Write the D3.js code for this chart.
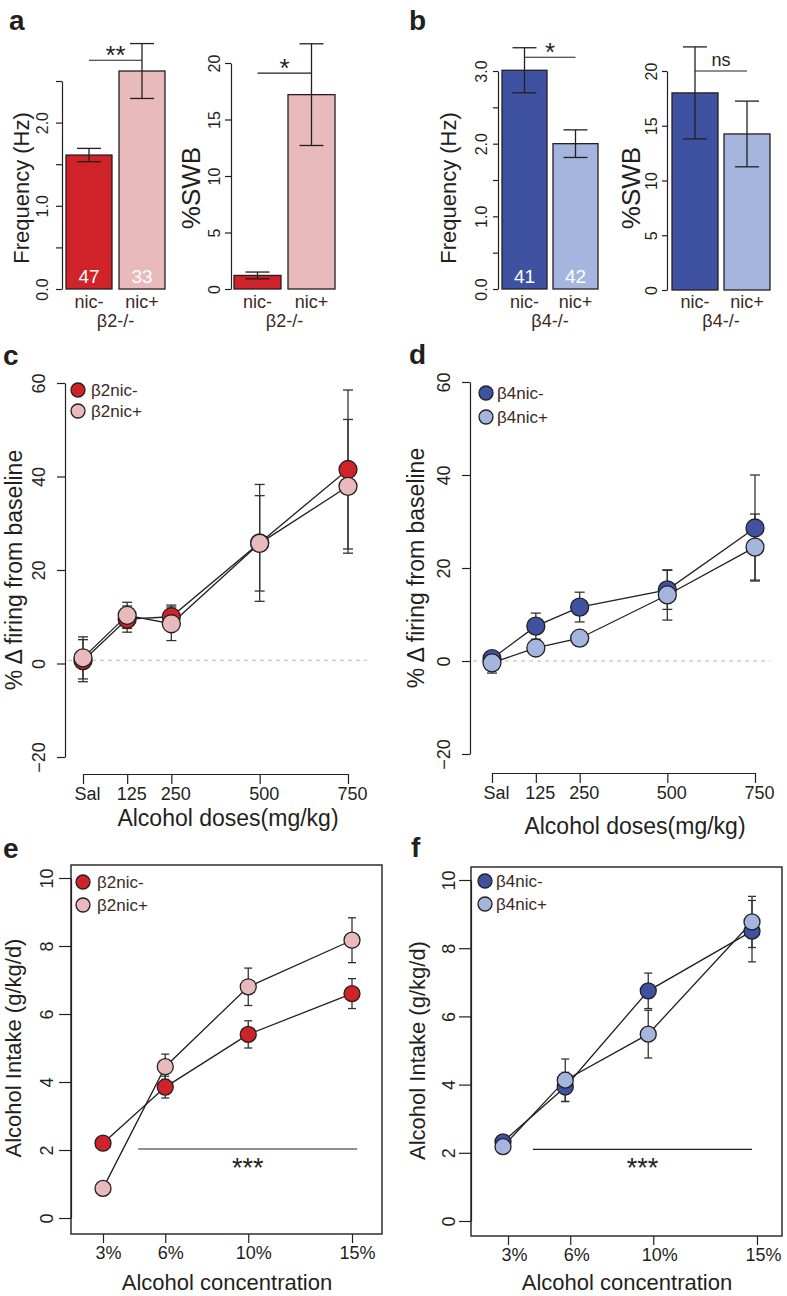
<!DOCTYPE html>
<html lang="en">
<head>
<meta charset="UTF-8">
<title>Nicotine exposure, VTA firing and alcohol intake</title>
<script src="https://d3js.org/d3.v7.min.js"></script>
<style>
    body { margin: 0; background: #fff; }
    svg { display: block; font-family: "Liberation Sans", Arial, Helvetica, sans-serif; }
    .axis path, .axis line { stroke: #231f20; stroke-width: 1.2; fill: none; }
    .axis text { fill: #231f20; }
    .letter { font-weight: bold; font-size: 28px; fill: #231f20; }
</style>
</head>
<body>
<svg width="787" height="1296"></svg>
<script>
// ---------- data ----------
// panels a, b (bars)
const groups = ["nic-", "nic+"];
const freqB2 = [1.61, 2.62];
const freqB2Sem = [0.08, 0.33];
const swbB2 = [1.2, 17.2];
const swbB2Sem = [0.3, 4.5];
const cellsB2 = ["47", "33"];
const freqB4 = [3.01, 2.0];
const freqB4Sem = [0.31, 0.19];
const swbB4 = [18.0, 14.25];
const swbB4Sem = [4.2, 3.0];
const cellsB4 = ["41", "42"];
const sigLabels = ["**", "*", "*", "ns"];
const sigLevels = [2.75, 19.1, 3.19, 20.0];

// panels c, d (firing vs dose)
const doses = [0, 125, 250, 500, 750];
const doseLabels = ["Sal", "125", "250", "500", "750"];
const firingTicks = [-20, 0, 20, 40, 60];
const b2NicMinusFiring = [0.6, 9.5, 10.0, 25.8, 41.5];
const b2NicMinusFiringSem = [4.5, 2.8, 2.5, 12.5, 17.0];
const b2NicPlusFiring = [1.2, 10.3, 8.5, 25.7, 37.9];
const b2NicPlusFiringSem = [4.5, 2.8, 3.6, 10.2, 14.3];
const b4NicMinusFiring = [0.5, 7.5, 11.6, 15.3, 28.6];
const b4NicMinusFiringSem = [1.2, 2.8, 3.2, 4.2, 11.4];
const b4NicPlusFiring = [-0.4, 2.8, 4.9, 14.2, 24.5];
const b4NicPlusFiringSem = [2.2, 1.2, 1.0, 5.4, 7.1];

// panels e, f (intake vs concentration)
const concentrations = [3, 6, 10, 15];
const concentrationLabels = ["3%", "6%", "10%", "15%"];
const intakeTicks = [0, 2, 4, 6, 8, 10];
const b2NicMinusIntake = [2.2, 3.85, 5.4, 6.6];
const b2NicMinusIntakeSem = [0.15, 0.32, 0.4, 0.44];
const b2NicPlusIntake = [0.87, 4.45, 6.8, 8.17];
const b2NicPlusIntakeSem = [0.1, 0.37, 0.55, 0.66];
const b4NicMinusIntake = [2.32, 3.93, 6.75, 8.5];
const b4NicMinusIntakeSem = [0.15, 0.43, 0.52, 0.9];
const b4NicPlusIntake = [2.18, 4.13, 5.48, 8.77];
const b4NicPlusIntakeSem = [0.1, 0.62, 0.7, 0.75];

// ---------- drawing ----------
const svg = d3.select("svg");
const ink = "#231f20";
const brown = "#3c2a1e";
const red = "#cf2229", pink = "#e9babc", navy = "#3f51a1", sky = "#a4b6de";

function rotTitle(text, xb, yc, fs) {
    svg.append("text")
        .attr("transform", `translate(${xb},${yc}) rotate(-90)`)
        .attr("text-anchor", "middle")
        .attr("fill", ink)
        .style("font-size", fs + "px")
        .text(text);
}

function leftAxis(y, x0, vals, fmt, tickLen, gap, fs) {
    const ax = svg.append("g")
        .attr("class", "axis")
        .attr("transform", `translate(${x0},0)`)
        .call(d3.axisLeft(y).tickValues(vals).tickFormat(fmt).tickSize(tickLen).tickSizeOuter(0));
    ax.attr("font-family", null).attr("font-size", null);
    ax.selectAll(".tick text")
        .attr("transform", "rotate(-90)")
        .attr("x", 0).attr("y", -gap).attr("dy", 0)
        .style("text-anchor", "middle")
        .style("font-size", fs + "px");
    return ax;
}

function barPanel(o) {
    const y = d3.scaleLinear().domain(o.yDomain).range([o.y0, o.yTop]);
    const x = d3.scaleBand().domain(groups)
        .range([o.left, o.left + 2 * o.bw + o.gap])
        .paddingInner(o.gap / (o.bw + o.gap)).paddingOuter(0);
    const cx = d => x(d) + x.bandwidth() / 2;

    leftAxis(y, o.axisX, o.ticks, o.fmt, o.tickLen, o.labelGap, 16);
    rotTitle(o.title, o.titleX, 188, o.titleSize);

    const g = svg.append("g");
    g.selectAll("rect").data(o.values).join("rect")
        .attr("x", (d, i) => x(groups[i]))
        .attr("y", d => y(d))
        .attr("width", x.bandwidth())
        .attr("height", d => y(0) - y(d))
        .attr("fill", (d, i) => o.colors[i])
        .attr("stroke", ink).attr("stroke-width", 1.3);

    // error bars
    o.values.forEach((v, i) => {
        const c = cx(groups[i]), lo = y(v - o.sem[i]), hi = y(v + o.sem[i]);
        g.append("line").attr("x1", c).attr("x2", c).attr("y1", lo).attr("y2", hi)
            .attr("stroke", ink).attr("stroke-width", 1.3);
        [lo, hi].forEach(yy => g.append("line").attr("x1", c - 12).attr("x2", c + 12)
            .attr("y1", yy).attr("y2", yy).attr("stroke", ink).attr("stroke-width", 1.3));
    });

    // cell counts
    if (o.cells) {
        g.selectAll(".cells").data(o.cells).join("text")
            .attr("x", (d, i) => cx(groups[i])).attr("y", o.y0 - 6)
            .attr("text-anchor", "middle").attr("fill", "#fff")
            .style("font-size", "19px").text(d => d);
    }

    // group labels
    g.selectAll(".grp").data(groups).join("text")
        .attr("x", d => cx(d)).attr("y", 308)
        .attr("text-anchor", "middle").attr("fill", brown)
        .style("font-size", "18px").text(d => d);
    g.append("text")
        .attr("x", (cx(groups[0]) + cx(groups[1])) / 2).attr("y", 327)
        .attr("text-anchor", "middle").attr("fill", brown)
        .style("font-size", "18px").text(o.genotype);

    // significance
    const sy = y(o.sigLevel);
    const ns = o.sigLabel === "ns";
    g.append("line").attr("x1", cx(groups[0])).attr("x2", cx(groups[1]))
        .attr("y1", sy).attr("y2", sy).attr("stroke", ink).attr("stroke-width", 1.1);
    g.append("text")
        .attr("x", (cx(groups[0]) + cx(groups[1])) / 2)
        .attr("y", ns ? sy - 5 : sy + 4)
        .attr("text-anchor", "middle").attr("fill", ink)
        .style("font-size", ns ? "18px" : "26px").text(o.sigLabel);
}

function linePanel(o) {
    const y = d3.scaleLinear().domain(o.yDomain).range(o.yRange);
    const x = d3.scaleLinear().domain(o.xDomain).range(o.xRange);
    const xp = d3.scaleLinear().domain(o.xDomain).range(o.xRange.map(v => v + o.pointShift));

    if (o.box) {
        svg.append("rect").attr("x", o.box[0]).attr("y", o.box[1])
            .attr("width", o.box[2] - o.box[0]).attr("height", o.box[3] - o.box[1])
            .attr("fill", "none").attr("stroke", ink).attr("stroke-width", 1.4);
    }

    leftAxis(y, o.axisX, o.yTicks, d3.format("d"), o.yTickLen, o.yLabelGap, 18);

    const xa = svg.append("g").attr("class", "axis")
        .attr("transform", `translate(0,${o.xAxisY})`)
        .call(d3.axisBottom(x).tickValues(o.xValues)
            .tickFormat((d, i) => o.xLabels[i]).tickSize(o.xTickLen).tickSizeOuter(0));
    xa.attr("font-family", null).attr("font-size", null);
    xa.selectAll(".tick text").attr("y", o.xTickLen + 3).attr("dx", o.labelShift)
        .style("font-size", "18px");
    if (o.box) xa.select(".domain").remove();

    rotTitle(o.yTitle, o.yTitleX, (o.yRange[0] + o.yRange[1]) / 2, o.titleSize);
    svg.append("text").attr("x", o.xTitlePos[0]).attr("y", o.xTitlePos[1])
        .attr("text-anchor", "middle").attr("fill", ink)
        .style("font-size", o.titleSize + "px").text(o.xTitle);

    if (o.refLevel !== undefined) {
        svg.append("line").attr("x1", o.axisX + 3).attr("x2", o.refEnd)
            .attr("y1", y(o.refLevel)).attr("y2", y(o.refLevel))
            .attr("stroke", "#b8b8b8").attr("stroke-width", 1.1).attr("stroke-dasharray", "4,4");
    }

    if (o.sig) {
        const sy = y(o.sig.level);
        svg.append("line").attr("x1", x(o.sig.span[0])).attr("x2", x(o.sig.span[1]))
            .attr("y1", sy).attr("y2", sy).attr("stroke", ink).attr("stroke-width", 1.1);
        svg.append("text").attr("x", (x(o.sig.span[0]) + x(o.sig.span[1])) / 2).attr("y", sy + 28)
            .attr("text-anchor", "middle").attr("fill", ink).style("font-size", "27px").text("***");
    }

    const g = svg.append("g");
    o.series.forEach(s => {
        s.values.forEach((v, i) => {
            const c = xp(o.xValues[i]), lo = y(v - s.sem[i]), hi = y(v + s.sem[i]);
            g.append("line").attr("x1", c).attr("x2", c).attr("y1", lo).attr("y2", hi)
                .attr("stroke", "#333").attr("stroke-width", 1.3);
            [lo, hi].forEach(yy => g.append("line").attr("x1", c - o.cap).attr("x2", c + o.cap)
                .attr("y1", yy).attr("y2", yy).attr("stroke", "#333").attr("stroke-width", 1.3));
        });
    });
    const line = d3.line().x((d, i) => xp(o.xValues[i])).y(d => y(d));
    o.series.forEach(s => {
        g.append("path").datum(s.values).attr("d", line)
            .attr("fill", "none").attr("stroke", ink).attr("stroke-width", 1.3);
    });
    o.series.forEach(s => {
        g.selectAll(null).data(s.values).join("circle")
            .attr("cx", (d, i) => xp(o.xValues[i])).attr("cy", d => y(d))
            .attr("r", o.r).attr("fill", s.color)
            .attr("stroke", ink).attr("stroke-width", 1.3);
    });

    // legend
    o.series.forEach((s, i) => {
        const ly = o.legend[1] + i * o.legend[3];
        svg.append("circle").attr("cx", o.legend[0]).attr("cy", ly).attr("r", 7)
            .attr("fill", s.color).attr("stroke", ink).attr("stroke-width", 1.3);
        svg.append("text").attr("x", o.legend[2]).attr("y", ly + 6)
            .attr("fill", brown).style("font-size", "17px").text(s.name);
    });
}

// panel letters
[["a", 9, 30], ["b", 409, 30], ["c", 3, 365], ["d", 409, 364], ["e", 3, 858], ["f", 411, 857]]
    .forEach(([t, x, y]) => svg.append("text").attr("class", "letter").attr("x", x).attr("y", y).text(t));

const halfTicks3 = d3.range(0, 3.01, 0.5);
const halfFmt = d => (Math.abs(d - Math.round(d)) < 1e-9 ? d3.format(".1f")(d) : "");

barPanel({ values: freqB2, sem: freqB2Sem, cells: cellsB2, colors: [red, pink], genotype: "β2-/-",
    yDomain: [0, 2.5], y0: 289, yTop: 81, left: 66, bw: 46, gap: 7, axisX: 62,
    ticks: d3.range(0, 2.51, 0.5), fmt: halfFmt, tickLen: 6, labelGap: 14,
    title: "Frequency (Hz)", titleX: 29, titleSize: 22, sigLevel: sigLevels[0], sigLabel: sigLabels[0] });

barPanel({ values: swbB2, sem: swbB2Sem, colors: [red, pink], genotype: "β2-/-",
    yDomain: [0, 20], y0: 289, yTop: 63, left: 234, bw: 47, gap: 7, axisX: 231,
    ticks: [0, 5, 10, 15, 20], fmt: d3.format("d"), tickLen: 6, labelGap: 11,
    title: "%SWB", titleX: 200, titleSize: 26, sigLevel: sigLevels[1], sigLabel: sigLabels[1] });

barPanel({ values: freqB4, sem: freqB4Sem, cells: cellsB4, colors: [navy, sky], genotype: "β4-/-",
    yDomain: [0, 3], y0: 289, yTop: 71, left: 502, bw: 45, gap: 6, axisX: 498,
    ticks: halfTicks3, fmt: halfFmt, tickLen: 5, labelGap: 11,
    title: "Frequency (Hz)", titleX: 456, titleSize: 22, sigLevel: sigLevels[2], sigLabel: sigLabels[2] });

barPanel({ values: swbB4, sem: swbB4Sem, colors: [navy, sky], genotype: "β4-/-",
    yDomain: [0, 20], y0: 290, yTop: 71, left: 672, bw: 46, gap: 6, axisX: 667,
    ticks: [0, 5, 10, 15, 20], fmt: d3.format("d"), tickLen: 5, labelGap: 10,
    title: "%SWB", titleX: 640, titleSize: 26, sigLevel: sigLevels[3], sigLabel: sigLabels[3] });

linePanel({ yDomain: [-20, 60], yRange: [757, 383], xDomain: [0, 750], xRange: [83, 348], pointShift: 0,
    axisX: 65, yTicks: firingTicks, yTickLen: 8, yLabelGap: 20,
    xAxisY: 774, xValues: doses, xLabels: doseLabels, xTickLen: 10, labelShift: 4,
    yTitle: "% Δ firing from baseline", yTitleX: 22, xTitle: "Alcohol doses(mg/kg)", xTitlePos: [228, 826],
    titleSize: 23, refLevel: 0.7, refEnd: 367, r: 9, cap: 5,
    series: [{ name: "β2nic-", values: b2NicMinusFiring, sem: b2NicMinusFiringSem, color: red },
             { name: "β2nic+", values: b2NicPlusFiring, sem: b2NicPlusFiringSem, color: pink }],
    legend: [78, 390, 91, 21] });

linePanel({ yDomain: [-20, 60], yRange: [754, 382], xDomain: [0, 750], xRange: [492, 755], pointShift: 0,
    axisX: 470, yTicks: firingTicks, yTickLen: 8, yLabelGap: 20,
    xAxisY: 773, xValues: doses, xLabels: doseLabels, xTickLen: 10, labelShift: 4,
    yTitle: "% Δ firing from baseline", yTitleX: 424, xTitle: "Alcohol doses(mg/kg)", xTitlePos: [635, 834],
    titleSize: 23, refLevel: 0, refEnd: 770, r: 9, cap: 5,
    series: [{ name: "β4nic-", values: b4NicMinusFiring, sem: b4NicMinusFiringSem, color: navy },
             { name: "β4nic+", values: b4NicPlusFiring, sem: b4NicPlusFiringSem, color: sky }],
    legend: [486, 393, 497, 24] });

linePanel({ yDomain: [0, 10], yRange: [1218, 878], xDomain: [3, 15], xRange: [103, 352], pointShift: 0,
    box: [71, 865, 382, 1234], axisX: 71, yTicks: intakeTicks, yTickLen: 12, yLabelGap: 18,
    xAxisY: 1234, xValues: concentrations, xLabels: concentrationLabels, xTickLen: 9, labelShift: 5,
    yTitle: "Alcohol Intake (g/kg/d)", yTitleX: 21, xTitle: "Alcohol concentration", xTitlePos: [227, 1290],
    titleSize: 22, sig: { level: 2.03, span: [4.7, 15.25] }, r: 8, cap: 4,
    series: [{ name: "β2nic-", values: b2NicMinusIntake, sem: b2NicMinusIntakeSem, color: red },
             { name: "β2nic+", values: b2NicPlusIntake, sem: b2NicPlusIntakeSem, color: pink }],
    legend: [83, 882, 97, 23] });

linePanel({ yDomain: [0, 10], yRange: [1221, 880], xDomain: [3, 15], xRange: [508, 757], pointShift: -5,
    box: [471, 867, 782, 1236], axisX: 471, yTicks: intakeTicks, yTickLen: 12, yLabelGap: 16,
    xAxisY: 1236, xValues: concentrations, xLabels: concentrationLabels, xTickLen: 9, labelShift: 6,
    yTitle: "Alcohol Intake (g/kg/d)", yTitleX: 425, xTitle: "Alcohol concentration", xTitlePos: [627, 1290],
    titleSize: 22, sig: { level: 2.1, span: [4.2, 14.76] }, r: 8, cap: 4,
    series: [{ name: "β4nic-", values: b4NicMinusIntake, sem: b4NicMinusIntakeSem, color: navy },
             { name: "β4nic+", values: b4NicPlusIntake, sem: b4NicPlusIntakeSem, color: sky }],
    legend: [485, 881, 496, 23] });
</script>
</body>
</html>
